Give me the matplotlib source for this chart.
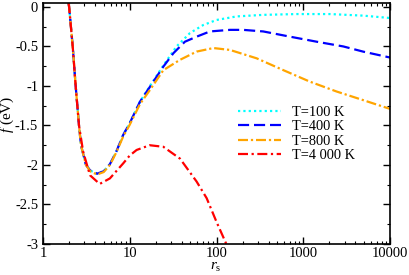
import numpy as np
import matplotlib
matplotlib.use('Agg')
import matplotlib.pyplot as plt
from matplotlib.ticker import MultipleLocator, LogLocator, FixedFormatter, FixedLocator

plt.rcParams['font.family'] = 'Liberation Serif'
plt.rcParams['mathtext.fontset'] = 'custom'
plt.rcParams['mathtext.rm'] = 'Liberation Serif'
plt.rcParams['mathtext.it'] = 'Liberation Serif:italic'
plt.rcParams['axes.unicode_minus'] = False

# values: r_s and free energy f (eV)
rs_100 = [1.97, 2.0, 2.2, 2.38, 2.6, 2.74, 3.13, 3.5, 4.2, 5.0, 5.9, 7.0, 8.4, 10, 13.1, 17.1,
          24.4, 34.6, 49.5, 70, 100, 170, 346, 840, 2030, 4930, 10000]
f_100 = [0.05, 0.0, -0.5, -1.0, -1.5, -1.75, -2.0, -2.07, -2.11, -2.08, -1.99, -1.83, -1.62, -1.47, -1.2, -1.0,
         -0.74, -0.5, -0.33, -0.23, -0.165, -0.12, -0.10, -0.09, -0.09, -0.11, -0.14]

rs_400 = [1.97, 2.0, 2.2, 2.38, 2.6, 2.74, 3.13, 3.5, 4.2, 5.0, 5.9, 7.0, 8.4, 10, 13.1, 17.1,
          24.4, 31.8, 43.2, 59, 84, 143, 203, 346, 703, 1430, 2900, 4930, 10000]
f_400 = [0.05, 0.0, -0.5, -1.0, -1.5, -1.75, -2.0, -2.07, -2.11, -2.08, -1.99, -1.83, -1.62, -1.47, -1.2, -1.01,
         -0.755, -0.586, -0.44, -0.376, -0.31, -0.29, -0.29, -0.31, -0.376, -0.44, -0.50, -0.566, -0.64]

rs_800 = [1.97, 2.0, 2.2, 2.38, 2.6, 2.74, 3.13, 3.5, 4.2, 5.0, 5.9, 7.0, 8.4, 10, 13.1, 17.1,
          24.4, 37.8, 59, 92, 143, 290, 590, 1190, 2420, 4930, 10000]
f_800 = [0.05, 0.0, -0.5, -1.0, -1.5, -1.75, -2.0, -2.08, -2.12, -2.09, -2.0, -1.84, -1.64, -1.49, -1.23, -1.05,
         -0.80, -0.67, -0.565, -0.52, -0.544, -0.65, -0.80, -0.945, -1.07, -1.18, -1.29]

rs_4000 = [1.97, 2.0, 2.2, 2.38, 2.6, 2.9, 3.48, 4.5, 5.9, 8.4, 10, 12, 17, 24.4, 38, 59, 77, 100, 131, 150]
f_4000 = [0.05, 0.0, -0.5, -1.0, -1.5, -1.83, -2.13, -2.24, -2.17, -1.98, -1.88, -1.81, -1.75, -1.77, -1.92,
          -2.21, -2.42, -2.72, -3.01, -3.2]

labels = ['T=100 K', 'T=400 K', 'T=800 K', 'T=4 000 K']

fig = plt.figure(figsize=(4.09, 2.75), dpi=100)
ax = fig.add_axes([43/409, 1 - 244/275, 347/409, 241/275])

ax.plot(rs_100, f_100, color='#00ffff', lw=1.6, dashes=(1, 1.4), label=labels[0])
ax.plot(rs_400, f_400, color='#0000ff', lw=1.6, dashes=(5, 2.2), label=labels[1])
ax.plot(rs_800, f_800, color='#ffa500', lw=1.6, dashes=(4.5, 1.3, 1, 1.3), label=labels[2])
ax.plot(rs_4000, f_4000, color='#ff0000', lw=1.6, dashes=(4.5, 1.6, 1, 1.6), label=labels[3])

ax.set_xscale('log')
ax.set_xlim(1, 10000)
ax.set_ylim(-3, 0.05)
ax.xaxis.set_major_locator(FixedLocator([1, 10, 100, 1000, 10000]))
ax.xaxis.set_major_formatter(FixedFormatter(['1', '10', '100', '1000', '10000']))
ax.xaxis.set_minor_locator(LogLocator(base=10, subs=np.arange(2, 10)))
ax.yaxis.set_minor_locator(MultipleLocator(0.25))
ax.set_yticks([0, -0.5, -1, -1.5, -2, -2.5, -3])
ax.set_yticklabels(['0', '-0.5', '-1', '-1.5', '-2', '-2.5', '-3'])

ax.tick_params(which='both', direction='in', top=True, right=True, labelsize=10.5)
ax.tick_params(axis='x', which='major', pad=2.5)
ax.tick_params(which='major', length=5, width=1)
ax.tick_params(which='minor', length=2.5, width=0.8)
for s in ax.spines.values():
    s.set_linewidth(1.2)

# axis titles placed by hand, the reference keeps them tight to the edges
fig.text(216/409, 1 - 267.5/275, r'$r_{\rm s}$', fontsize=11, ha='center', va='center')
fig.text(7.5/409, 1 - 114/275, r'$f$ (eV)', fontsize=11, ha='center', va='center', rotation=90)

ax.legend(loc='upper left', bbox_to_anchor=((238 - 43) / 347, (244 - 106) / 241), frameon=False,
          fontsize=10.4, handlelength=3.0, handletextpad=0.75, labelspacing=0.08, borderpad=0, borderaxespad=0)

fig.savefig('out.png', dpi=100)
